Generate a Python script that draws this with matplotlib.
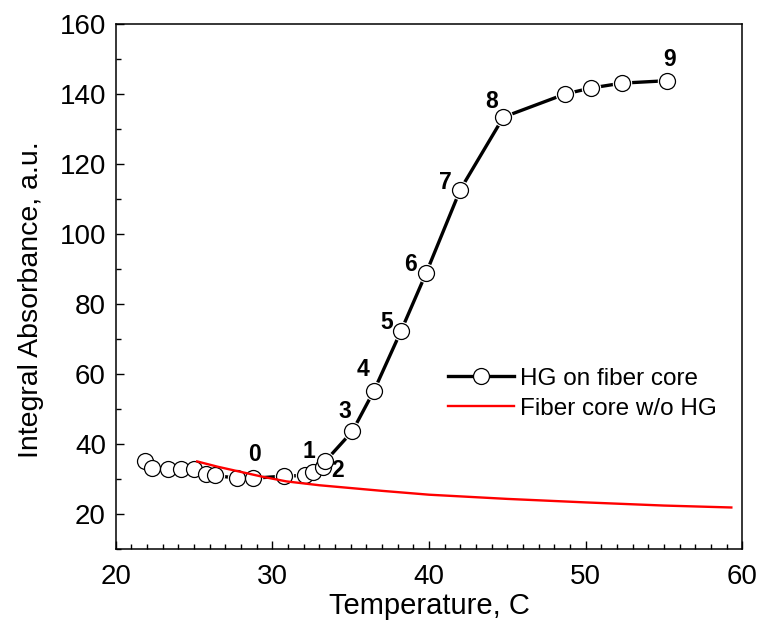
import numpy as np
import matplotlib.pyplot as plt

plt.rcParams['font.family'] = ['Liberation Sans', 'DejaVu Sans']
plt.rcParams['axes.unicode_minus'] = False

# HG on fiber core
hg_temp = [21.87, 22.33, 23.36, 24.15, 25.0, 25.75, 26.34, 27.77, 28.76,
           30.75, 32.09, 32.62, 33.22, 33.37, 35.11, 36.49, 38.2, 39.82,
           42.0, 44.75, 48.69, 50.33, 52.31, 55.19]
hg_abs = [35.1, 33.2, 32.9, 32.9, 32.7, 31.5, 31.0, 30.2, 30.2,
          30.8, 31.0, 32.0, 33.4, 35.0, 43.6, 55.2, 72.1, 88.8,
          112.6, 133.3, 139.9, 141.6, 143.0, 143.7]

# Fiber core without HG
core_temp = [25.2, 26.5, 28.0, 29.4, 30.9, 33.0, 35.0, 37.0, 40.0, 45.0, 50.0, 55.0, 59.3]
core_abs = [35.0, 33.5, 32.0, 30.6, 29.3, 28.2, 27.4, 26.6, 25.5, 24.3, 23.3, 22.4, 21.85]

# numbered points: index into hg arrays, label text, label offset (points)
point_idx = [8, 10, 12, 14, 15, 16, 17, 18, 19, 23]
point_lbl = ['0', '1', '2', '3', '4', '5', '6', '7', '8', '9']
lbl_off = [(1, 17), (3, 17), (11, -2.5), (-5.3, 14), (-8.1, 15), (-10.1, 6.8),
           (-11, 6), (-10.8, 5), (-8.4, 11.2), (1.9, 15.4)]


def main():
    fig = plt.figure(figsize=(7.59, 6.23), dpi=100)
    ax = fig.add_axes([0.1524, 0.1188, 0.8256, 0.8433])

    ax.plot(hg_temp, hg_abs, color='black', lw=2.4, zorder=2)
    # white halo so the line stops short of each marker
    ax.plot(hg_temp, hg_abs, ls='none', marker='o', ms=14, mfc='white',
            mec='white', mew=0, zorder=3)
    ax.plot(hg_temp, hg_abs, ls='none', marker='o', ms=11.5, mfc='white',
            mec='black', mew=0.9, zorder=4)
    ax.plot(core_temp, core_abs, color='red', lw=1.7, zorder=5)

    # legend handles
    h1, = ax.plot([], [], color='black', lw=2.4, marker='o', ms=11.5,
                  mfc='white', mec='black', mew=0.9)
    h2, = ax.plot([], [], color='red', lw=1.7)
    ax.legend([h1, h2], ['HG on fiber core', 'Fiber core w/o HG'],
              loc='upper left', bbox_to_anchor=(0.531, 0.345),
              frameon=False, fontsize=17.5, handlelength=2.7,
              borderpad=0, borderaxespad=0, labelspacing=0.32,
              handletextpad=0.25)

    for i, t, (dx, dy) in zip(point_idx, point_lbl, lbl_off):
        ax.annotate(t, (hg_temp[i], hg_abs[i]), xytext=(dx, dy),
                    textcoords='offset points', ha='center', va='center',
                    fontsize=16.5, fontweight='bold')

    ax.set_xlim(20, 60)
    ax.set_ylim(10, 160)
    ax.set_xticks([20, 30, 40, 50, 60])
    ax.set_xticks(np.arange(20, 61, 1), minor=True)
    ax.set_yticks([20, 40, 60, 80, 100, 120, 140, 160])
    ax.set_yticks(np.arange(10, 161, 10), minor=True)
    ax.tick_params(axis='both', which='both', direction='in',
                   labelsize=20, width=1.0)
    ax.tick_params(which='major', length=6)
    ax.tick_params(which='minor', length=3.5)
    ax.tick_params(axis='x', pad=11)
    ax.tick_params(axis='y', pad=7)
    for s in ax.spines.values():
        s.set_linewidth(1.1)

    ax.set_xlabel('Temperature, C', fontsize=21, labelpad=1)
    ax.set_ylabel('Integral Absorbance, a.u.', fontsize=20.5)
    ax.yaxis.set_label_coords(-0.114, 0.475)

    fig.savefig('out.png', dpi=100)


if __name__ == "__main__":
    main()
